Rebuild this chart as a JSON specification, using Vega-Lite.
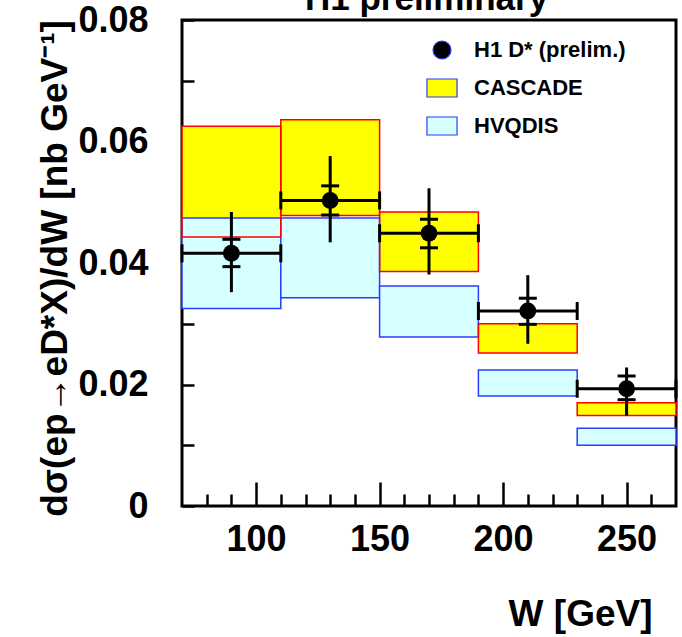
{
  "$schema": "https://vega.github.io/schema/vega-lite/v6.json",
  "width": 494,
  "height": 486,
  "autosize": {"type": "none"},
  "padding": {"left": 182, "top": 20, "right": 6, "bottom": 131},
  "background": "white",
  "config": {
    "view": {"stroke": "black", "strokeWidth": 3},
    "font": "Liberation Sans",
    "axis": {"labelOverlap": false, "labelFlush": false, "labelBound": false}
  },
  "data": {"values": [
    {"w": 90, "wlo": 70, "whi": 110, "casLo": 0.0443, "casHi": 0.0625, "hvqLo": 0.0325, "hvqHi": 0.0474, "val": 0.0416, "statLo": 0.0394, "statHi": 0.0439, "totLo": 0.0352, "totHi": 0.0484},
    {"w": 130, "wlo": 110, "whi": 150, "casLo": 0.0478, "casHi": 0.0636, "hvqLo": 0.0343, "hvqHi": 0.0474, "val": 0.0503, "statLo": 0.0479, "statHi": 0.0527, "totLo": 0.0434, "totHi": 0.0576},
    {"w": 170, "wlo": 150, "whi": 190, "casLo": 0.0386, "casHi": 0.0484, "hvqLo": 0.0278, "hvqHi": 0.0362, "val": 0.0449, "statLo": 0.0425, "statHi": 0.0472, "totLo": 0.0381, "totHi": 0.0523},
    {"w": 210, "wlo": 190, "whi": 230, "casLo": 0.0252, "casHi": 0.0300, "hvqLo": 0.0181, "hvqHi": 0.0224, "val": 0.0321, "statLo": 0.0299, "statHi": 0.0342, "totLo": 0.0267, "totHi": 0.0380},
    {"w": 250, "wlo": 230, "whi": 270, "casLo": 0.0149, "casHi": 0.0170, "hvqLo": 0.0100, "hvqHi": 0.0128, "val": 0.0193, "statLo": 0.0175, "statHi": 0.0214, "totLo": 0.0149, "totHi": 0.0228}
  ]},
  "layer": [
    {
      "mark": {"type": "rect"},
      "encoding": {
        "x": {"field": "wlo", "type": "quantitative", "scale": {"domain": [70, 270], "nice": false, "zero": false},
          "axis": {"title": "W [GeV]", "values": [80, 90, 100, 110, 120, 130, 140, 150, 160, 170, 180, 190, 200, 210, 220, 230, 240, 250, 260], "tickCount": 20,
            "labelExpr": "datum.value % 50 === 0 ? datum.label : ''", "labelOverlap": false, "labelFlush": false,
            "tickSize": {"condition": {"test": "datum.value % 50 === 0", "value": -24}, "value": -12},
            "tickWidth": 2.5, "tickColor": "black", "domain": false, "grid": false,
            "labelFont": "Liberation Sans", "labelFontWeight": "bold", "labelFontSize": 36, "labelColor": "black", "labelPadding": 40,
            "titleFont": "Liberation Sans", "titleFontWeight": "bold", "titleFontSize": 37, "titleColor": "black",
            "titleAlign": "right", "titleBaseline": "alphabetic", "titleX": 470, "titleY": 119}},
        "x2": {"field": "whi"},
        "y": {"field": "casLo", "type": "quantitative", "scale": {"domain": [0, 0.08], "nice": false},
          "axis": {"title": "dσ(ep→eD*X)/dW [nb GeV⁻¹]", "values": [0, 0.005, 0.01, 0.015, 0.02, 0.025, 0.03, 0.035, 0.04, 0.045, 0.05, 0.055, 0.06, 0.065, 0.07, 0.075, 0.08],
            "labelExpr": "abs(datum.value*50 - round(datum.value*50)) < 0.001 ? format(datum.value, '.2~f') : ''", "labelOverlap": false, "labelFlush": false,
            "tickSize": -12, "tickWidth": 2.5, "tickColor": "black", "domain": false, "grid": false,
            "labelFont": "Liberation Sans", "labelFontWeight": "bold", "labelFontSize": 36, "labelColor": "black", "labelPadding": 46,
            "titleFont": "Liberation Sans", "titleFontWeight": "bold", "titleFontSize": 37, "titleColor": "black",
            "titleAngle": -90, "titleAlign": "center", "titleBaseline": "alphabetic", "titleX": -116, "titleY": 248}},
        "y2": {"field": "casHi"},
        "fill": {"datum": "CASCADE", "type": "nominal",
          "scale": {"domain": ["H1 D* (prelim.)", "CASCADE", "HVQDIS"], "range": ["#000000", "#ffff00", "#d6ffff"]},
          "legend": {"title": null, "orient": "none", "legendX": 249, "legendY": 19, "symbolSize": 324, "labelFontSize": 22, "labelFont": "Liberation Sans", "labelFontWeight": "bold", "labelColor": "black", "rowPadding": 14, "labelOffset": 21,
            "symbolStrokeColor": "#444444", "symbolStrokeWidth": 1.2}}
      }
    },
    {
      "mark": {"type": "rect", "stroke": "#2a3cff", "strokeWidth": 1.5},
      "encoding": {
        "x": {"field": "wlo", "type": "quantitative", "scale": {"domain": [70, 270], "nice": false, "zero": false}},
        "x2": {"field": "whi"},
        "y": {"field": "hvqLo", "type": "quantitative", "scale": {"domain": [0, 0.08], "nice": false}},
        "y2": {"field": "hvqHi"},
        "fill": {"datum": "HVQDIS", "type": "nominal"}
      }
    },
    {
      "mark": {"type": "rect", "stroke": "#ff0000", "strokeWidth": 1.5, "fillOpacity": 0, "fill": "white"},
      "encoding": {
        "x": {"field": "wlo", "type": "quantitative", "scale": {"domain": [70, 270], "nice": false, "zero": false}},
        "x2": {"field": "whi"},
        "y": {"field": "casLo", "type": "quantitative", "scale": {"domain": [0, 0.08], "nice": false}},
        "y2": {"field": "casHi"}
      }
    },
    {
      "mark": {"type": "rule", "color": "black", "strokeWidth": 3},
      "encoding": {
        "x": {"field": "wlo", "type": "quantitative", "scale": {"domain": [70, 270], "nice": false, "zero": false}},
        "x2": {"field": "whi"},
        "y": {"field": "val", "type": "quantitative", "scale": {"domain": [0, 0.08], "nice": false}}
      }
    },
    {
      "mark": {"type": "rule", "color": "black", "strokeWidth": 3},
      "encoding": {
        "x": {"field": "w", "type": "quantitative", "scale": {"domain": [70, 270], "nice": false, "zero": false}},
        "y": {"field": "totLo", "type": "quantitative", "scale": {"domain": [0, 0.08], "nice": false}},
        "y2": {"field": "totHi"}
      }
    },
    {
      "mark": {"type": "tick", "color": "black", "orient": "vertical", "size": 18, "thickness": 3, "opacity": 1},
      "encoding": {
        "x": {"field": "wlo", "type": "quantitative", "scale": {"domain": [70, 270], "nice": false, "zero": false}},
        "y": {"field": "val", "type": "quantitative", "scale": {"domain": [0, 0.08], "nice": false}}
      }
    },
    {
      "mark": {"type": "tick", "color": "black", "orient": "vertical", "size": 18, "thickness": 3, "opacity": 1},
      "encoding": {
        "x": {"field": "whi", "type": "quantitative", "scale": {"domain": [70, 270], "nice": false, "zero": false}},
        "y": {"field": "val", "type": "quantitative", "scale": {"domain": [0, 0.08], "nice": false}}
      }
    },
    {
      "mark": {"type": "tick", "color": "black", "orient": "horizontal", "size": 18, "thickness": 3, "opacity": 1},
      "encoding": {
        "x": {"field": "w", "type": "quantitative", "scale": {"domain": [70, 270], "nice": false, "zero": false}},
        "y": {"field": "statLo", "type": "quantitative", "scale": {"domain": [0, 0.08], "nice": false}}
      }
    },
    {
      "mark": {"type": "tick", "color": "black", "orient": "horizontal", "size": 18, "thickness": 3, "opacity": 1},
      "encoding": {
        "x": {"field": "w", "type": "quantitative", "scale": {"domain": [70, 270], "nice": false, "zero": false}},
        "y": {"field": "statHi", "type": "quantitative", "scale": {"domain": [0, 0.08], "nice": false}}
      }
    },
    {
      "mark": {"type": "point", "filled": true, "size": 284, "opacity": 1},
      "encoding": {
        "x": {"field": "w", "type": "quantitative", "scale": {"domain": [70, 270], "nice": false, "zero": false}},
        "y": {"field": "val", "type": "quantitative", "scale": {"domain": [0, 0.08], "nice": false}},
        "fill": {"datum": "H1 D* (prelim.)", "type": "nominal"},
        "shape": {"datum": "H1 D* (prelim.)", "type": "nominal",
          "scale": {"domain": ["H1 D* (prelim.)", "CASCADE", "HVQDIS"], "range": ["circle", "M-1.67,-1H1.67V1H-1.67Z", "M-1.67,-1H1.67V1H-1.67Z"]},
          "legend": {"title": null, "orient": "none", "legendX": 249, "legendY": 19, "symbolSize": 324, "labelFontSize": 22, "labelFont": "Liberation Sans", "labelFontWeight": "bold", "labelColor": "black", "rowPadding": 14, "labelOffset": 21,
            "symbolStrokeColor": "#444444", "symbolStrokeWidth": 1.2}}
      }
    },
    {
      "data": {"values": [{"label": "H1 preliminary"}]},
      "mark": {"type": "text", "font": "Liberation Sans", "fontWeight": "bold", "fontSize": 35, "color": "black", "baseline": "alphabetic", "align": "center", "dy": -10},
      "encoding": {
        "x": {"datum": 169, "type": "quantitative", "scale": {"domain": [70, 270], "nice": false, "zero": false}},
        "y": {"datum": 0.08, "type": "quantitative", "scale": {"domain": [0, 0.08], "nice": false}},
        "text": {"field": "label", "type": "nominal"}
      }
    }
  ]
}
